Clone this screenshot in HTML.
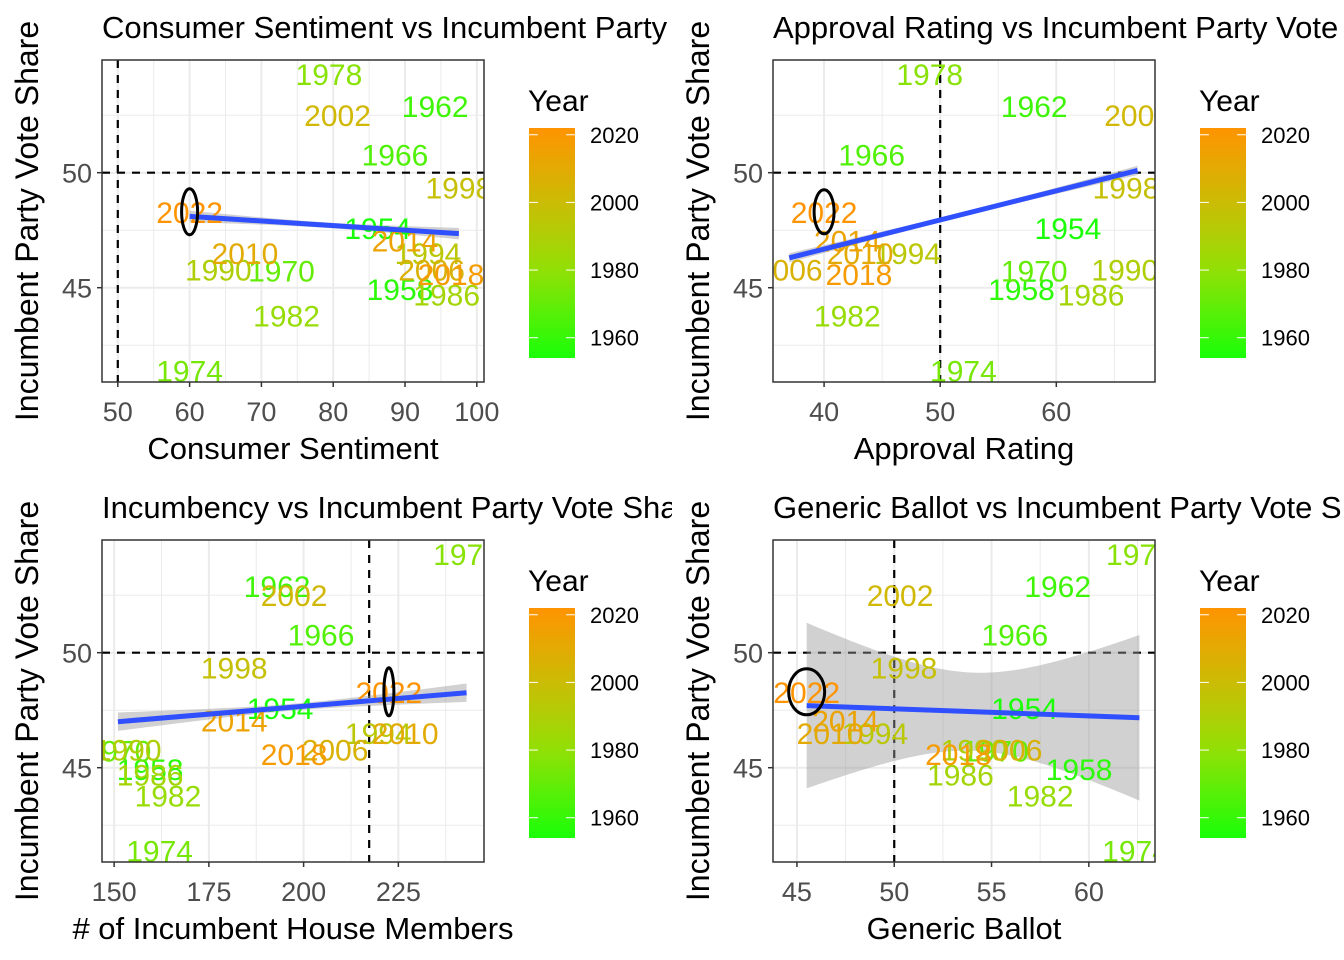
<!DOCTYPE html>
<html><head><meta charset="utf-8"><style>
html,body{margin:0;padding:0;background:#fff;}
svg{display:block;font-family:"Liberation Sans",Arial,sans-serif;}
</style></head><body>
<svg id="root" width="1344" height="960" xmlns="http://www.w3.org/2000/svg"></svg>
<script>
const years=[1954,1958,1962,1966,1970,1974,1978,1982,1986,1990,1994,1998,2002,2006,2010,2014,2018,2022];
const voteShare=[47.6,44.95,52.9,50.8,45.75,41.4,54.3,43.8,44.7,45.8,46.5,49.35,52.5,45.8,46.5,47.05,45.6,48.3];
const sentiment=[86.2,89.3,94.2,88.6,72.8,60,79.4,73.5,95.8,64,93.2,97.5,80.6,93.7,67.7,90,96.4,60];
const approval=[61,57,58.1,44.1,58.1,52,49.1,42,63,65.9,47.2,66,67,37,43.1,42,43,40];
const incumbents=[193.8,159.5,193,204.6,151,162,243,164.2,159.5,153.7,219.7,181.7,197.5,208.3,226.8,181.7,197.5,222.5];
const generic=[56.7,59.5,58.4,56.2,55.2,62.4,62.6,57.5,53.4,54.1,49,50.5,50.3,55.9,46.7,47.5,53.3,45.5];
// trend line fitted values at min/max x, per panel
const trendLo=[48.1,46.3,47.0,47.7];
const trendHi=[47.35,50.1,48.26,47.17];
const bandCenter=[0.12,0.1,0.15,1.7];
const bandEnds=[0.25,0.2,0.4,3.6];
const xTicksSent=[50,60,70,80,90,100];
const xTicksAppr=[40,50,60];
const xTicksInc=[150,175,200,225];
const xTicksGen=[45,50,55,60];
const yTicks=[45,50];
const legendTicks=[1960,1980,2000,2020];

const NS="http://www.w3.org/2000/svg";
const root=document.getElementById('root');
function mk(tag,attrs,parent){const e=document.createElementNS(NS,tag);for(const k in attrs)e.setAttribute(k,attrs[k]);parent.appendChild(e);return e;}
function hex(c){return [parseInt(c.slice(1,3),16),parseInt(c.slice(3,5),16),parseInt(c.slice(5,7),16)];}
const stops=[[1954,'#1aff08'],[1980,'#92e005'],[2000,'#cbbc05'],[2022,'#ff9400']];
function yearColor(y){
  for(let i=0;i<stops.length-1;i++){const a=stops[i],b=stops[i+1];
    if(y<=b[0]||i==stops.length-2){let t=Math.max(0,Math.min(1,(y-a[0])/(b[0]-a[0])));const ca=hex(a[1]),cb=hex(b[1]);
      return 'rgb('+ca.map((v,j)=>Math.round(v+(cb[j]-v)*t)).join(',')+')';}}
}

const panels=[
 {ox:0,oy:0,title:'Consumer Sentiment vs Incumbent Party Vote Share',xlab:'Consumer Sentiment',xs:sentiment,xmin:47.8,xmax:101,ticks:xTicksSent,minor:[55,65,75,85,95],vline:50,ell:[8,23],name:'sentiment'},
 {ox:671,oy:0,title:'Approval Rating vs Incumbent Party Vote Share',xlab:'Approval Rating',xs:approval,xmin:35.6,xmax:68.5,ticks:xTicksAppr,minor:[35,45,55,65],vline:50,ell:[10,22],name:'approval'},
 {ox:0,oy:480,title:'Incumbency vs Incumbent Party Vote Share',xlab:'# of Incumbent House Members',xs:incumbents,xmin:146.8,xmax:247.6,ticks:xTicksInc,minor:[162.5,187.5,212.5,237.5],vline:217.3,ell:[5,24],name:'incumbency'},
 {ox:671,oy:480,title:'Generic Ballot vs Incumbent Party Vote Share',xlab:'Generic Ballot',xs:generic,xmin:43.77,xmax:63.4,ticks:xTicksGen,minor:[47.5,52.5,57.5,62.5],vline:50,ell:[18,23],name:'generic-ballot'}
];
const PL=102,PR=484,PT=60,PB=382,YMIN=40.9,YMAX=54.9;
panels.forEach((p,pi)=>{
  const g=mk('svg',{x:p.ox,y:p.oy,width:672,height:480,overflow:'hidden'},root);
  
  
  const X=v=>PL+(v-p.xmin)/(p.xmax-p.xmin)*(PR-PL);
  const Y=v=>PB-(v-YMIN)/(YMAX-YMIN)*(PB-PT);
  const cid='clip'+pi;
  const cp=mk('clipPath',{id:cid},g);mk('rect',{x:PL,y:PT,width:PR-PL,height:PB-PT},cp);
  const pa=mk('g',{'clip-path':'url(#'+cid+')'},g);
  
  
  [42.5,47.5,52.5].forEach(v=>mk('line',{x1:PL,x2:PR,y1:Y(v),y2:Y(v),stroke:'#ebebeb','stroke-width':1},pa));
  p.minor.forEach(v=>mk('line',{x1:X(v),x2:X(v),y1:PT,y2:PB,stroke:'#ebebeb','stroke-width':1},pa));
  yTicks.forEach(v=>mk('line',{x1:PL,x2:PR,y1:Y(v),y2:Y(v),stroke:'#ebebeb','stroke-width':2},pa));
  p.ticks.forEach(v=>mk('line',{x1:X(v),x2:X(v),y1:PT,y2:PB,stroke:'#ebebeb','stroke-width':2},pa));
  const hl=mk('line',{x1:PL,x2:PR,y1:Y(50),y2:Y(50),stroke:'#000','stroke-width':2.2,'stroke-dasharray':'8,7'},pa);
  
  
  const vl=mk('line',{x1:X(p.vline),x2:X(p.vline),y1:PT,y2:PB,stroke:'#000','stroke-width':2.2,'stroke-dasharray':'8,7'},pa);
  
  
  const lo=Math.min(...p.xs),hi=Math.max(...p.xs),xc=(lo+hi)/2,hw=(hi-lo)/2;
  const yAt=x=>trendLo[pi]+(trendHi[pi]-trendLo[pi])*(x-lo)/(hi-lo);
  const hc=bandCenter[pi],he=bandEnds[pi];
  const half=x=>Math.sqrt(hc*hc+(he*he-hc*hc)*((x-xc)/hw)**2);
  const up=[],dn=[];
  for(let i=0;i<=60;i++){const x=lo+(hi-lo)*i/60;up.push(X(x)+','+Y(yAt(x)+half(x)));dn.unshift(X(x)+','+Y(yAt(x)-half(x)));}
  const band=mk('polygon',{points:up.concat(dn).join(' '),fill:'#999','fill-opacity':0.45},pa);
  
  
  years.forEach((yr,i)=>{
    const t=mk('text',{x:X(p.xs[i]),y:Y(voteShare[i])+11,'text-anchor':'middle','font-size':30,fill:yearColor(yr)},pa);
    t.textContent=yr;
    
    
  });
  const rl=mk('line',{x1:X(lo),x2:X(hi),y1:Y(yAt(lo)),y2:Y(yAt(hi)),stroke:'#3050ff','stroke-width':5},pa);
  
  
  const k=years.indexOf(2022);
  const el=mk('ellipse',{cx:X(p.xs[k]),cy:Y(voteShare[k]),rx:p.ell[0],ry:p.ell[1],fill:'none',stroke:'#000','stroke-width':3},pa);
  
  
  mk('rect',{x:PL,y:PT,width:PR-PL,height:PB-PT,fill:'none',stroke:'#333','stroke-width':1.5},g);
  yTicks.forEach(v=>{mk('line',{x1:PL-5,x2:PL,y1:Y(v),y2:Y(v),stroke:'#333','stroke-width':1.5},g);
    const t=mk('text',{x:PL-10,y:Y(v)+10,'text-anchor':'end','font-size':27,fill:'#4d4d4d'},g);t.textContent=v;
    
    });
  p.ticks.forEach(v=>{mk('line',{x1:X(v),x2:X(v),y1:PB,y2:PB+5,stroke:'#333','stroke-width':1.5},g);
    const t=mk('text',{x:X(v),y:PB+39,'text-anchor':'middle','font-size':27,fill:'#4d4d4d'},g);t.textContent=v;
    
    });
  const xt=mk('text',{x:(PL+PR)/2,y:459,'text-anchor':'middle','font-size':31,fill:'#000'},g);xt.textContent=p.xlab;
  
  
  const yt=mk('text',{x:0,y:0,transform:'translate(38,221) rotate(-90)','text-anchor':'middle','font-size':32,fill:'#000'},g);yt.textContent='Incumbent Party Vote Share';
  
  
  const tt=mk('text',{x:PL,y:38,'font-size':31,fill:'#000'},g);tt.textContent=p.title;
  
  
  const lg=mk('g',{},g);
  
  
  const lt=mk('text',{x:528,y:111,'font-size':30,fill:'#000'},lg);lt.textContent='Year';
  const gid='grad'+pi;const gr=mk('linearGradient',{id:gid,x1:0,y1:1,x2:0,y2:0},lg);
  for(let yy=1954;yy<=2022;yy+=4){mk('stop',{offset:(yy-1954)/68,'stop-color':yearColor(yy)},gr);}
  mk('rect',{x:529,y:128,width:46,height:230,fill:'url(#'+gid+')'},lg);
  const LY=v=>358-(v-1954)/(2022-1954)*230;
  legendTicks.forEach(v=>{mk('line',{x1:529,x2:538,y1:LY(v),y2:LY(v),stroke:'#fff','stroke-width':1},lg);
    mk('line',{x1:566,x2:575,y1:LY(v),y2:LY(v),stroke:'#fff','stroke-width':1},lg);
    const t=mk('text',{x:590,y:LY(v)+8,'font-size':22,fill:'#000'},lg);t.textContent=v;});
});
</script>
</body></html>
